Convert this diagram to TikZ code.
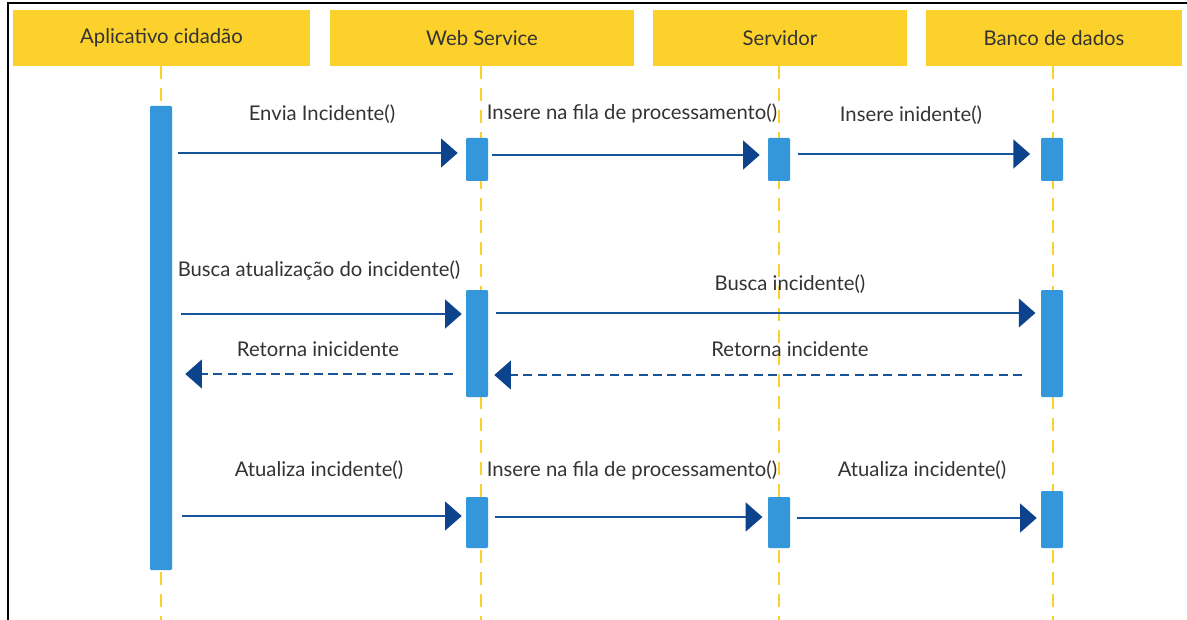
\documentclass[tikz,border=0pt]{standalone}
\usepackage{fontspec}
\setmainfont{Lato}
\usetikzlibrary{arrows.meta}
\definecolor{hdr}{HTML}{FCD12C}
\definecolor{bar}{HTML}{3497DB}
\definecolor{msgc}{HTML}{18549A}
\definecolor{headc}{HTML}{0C438C}
\definecolor{txt}{HTML}{333333}
\tikzset{
  header/.style={fill=hdr, draw=none, inner sep=0pt, text=txt, font=\fontsize{15.2}{17}\selectfont},
  lifeline/.style={draw=hdr, line width=2.2pt, dash pattern=on 9.5pt off 7pt},
  actbar/.style={fill=bar, draw=none, rounded corners=0.8pt, inner sep=0pt, minimum width=16.5pt},
  msg/.style={draw=msgc, line width=1.9pt, -{Triangle[length=12.5pt,width=21.5pt,color=headc,fill=headc]}},
  retmsg/.style={msg, dash pattern=on 6.8pt off 4pt},
  lbl/.style={text=txt, font=\fontsize{15.2}{17}\selectfont, inner sep=0pt},
}
\begin{document}
\begin{tikzpicture}[x=0.75pt,y=-0.75pt]
\useasboundingbox (0,0) rectangle (1187,620);
\fill[white] (0,0) rectangle (1187,620);
% frame (cropped)
\draw[black, line width=1.5pt] (8,620) -- (8,3.5) -- (1187,3.5);
% headers
\node[header, minimum width=222.75pt, minimum height=42pt] (happ) at (161.5,38) {Aplicativo cidadão};
\node[header, minimum width=228pt, minimum height=42pt] (hws) at (482,38) {Web Service};
\node[header, minimum width=190.5pt, minimum height=42pt] (hsv) at (780,38) {Servidor};
\node[header, minimum width=192pt, minimum height=42pt] (hdb) at (1054,38) {Banco de dados};
% lifelines
\coordinate (eapp) at (161,620);
\coordinate (ews) at (481,620);
\coordinate (esv) at (779,620);
\coordinate (edb) at (1053,620);
\draw[lifeline] (happ.south -| eapp) -- (eapp);
\draw[lifeline] (hws.south -| ews) -- (ews);
\draw[lifeline] (hsv.south -| esv) -- (esv);
\draw[lifeline] (hdb.south -| edb) -- (edb);
% activation bars
\node[actbar, minimum height=348pt] (app) at (161,338) {};
\node[actbar, minimum height=32.25pt] (ws1) at (477,159.5) {};
\node[actbar, minimum height=32.25pt] (sv1) at (779,159.5) {};
\node[actbar, minimum height=32.25pt] (db1) at (1052,159.5) {};
\node[actbar, minimum height=80.25pt] (ws2) at (477,343.5) {};
\node[actbar, minimum height=80.25pt] (db2) at (1052,343.5) {};
\node[actbar, minimum height=38.25pt] (ws3) at (477,522.5) {};
\node[actbar, minimum height=38.25pt] (sv3) at (779,522.5) {};
\node[actbar, minimum height=42.75pt] (db3) at (1052,519.5) {};
% messages
\draw[msg, shorten <=4.5pt, shorten >=6pt] (app.east |- 0,153) -- (ws1.west |- 0,153);
\draw[msg, shorten <=3pt, shorten >=6pt] (ws1.east |- 0,155) -- (sv1.west |- 0,155);
\draw[msg, shorten <=6pt, shorten >=8pt] (sv1.east |- 0,154) -- (db1.west |- 0,154);
\draw[msg, shorten <=6.75pt, shorten >=3pt] (app.east |- 0,314) -- (ws2.west |- 0,314);
\draw[msg, shorten <=6pt, shorten >=4pt] (ws2.east |- 0,313) -- (db2.west |- 0,313);
\draw[retmsg, shorten <=9.75pt, shorten >=9.75pt] (ws2.west |- 0,374) -- (app.east |- 0,374);
\draw[retmsg, shorten <=14pt, shorten >=4.5pt] (db2.west |- 0,375) -- (ws2.east |- 0,375);
\draw[msg, shorten <=7.5pt, shorten >=3pt] (app.east |- 0,516) -- (ws3.west |- 0,516);
\draw[msg, shorten <=5pt, shorten >=4pt] (ws3.east |- 0,517) -- (sv3.west |- 0,517);
\draw[msg, shorten <=5pt, shorten >=3pt] (sv3.east |- 0,518) -- (db3.west |- 0,518);
% labels
\node[lbl] (l1) at (322,114) {Envia Incidente()};
\node[lbl] (l2) at (632,113) {Insere na fila de processamento()};
\node[lbl] (l3) at (911,115) {Insere inidente()};
\node[lbl] (l4) at (319,270) {Busca atualização do incidente()};
\node[lbl] (l5) at (790,284) {Busca incidente()};
\node[lbl] (l6) at (318,349) {Retorna inicidente};
\node[lbl] (l7) at (790,349) {Retorna incidente};
\node[lbl] (l8) at (319,470) {Atualiza incidente()};
\node[lbl] (l9) at (632,470) {Insere na fila de processamento()};
\node[lbl] (l10) at (922,470) {Atualiza incidente()};
\end{tikzpicture}
\end{document}
